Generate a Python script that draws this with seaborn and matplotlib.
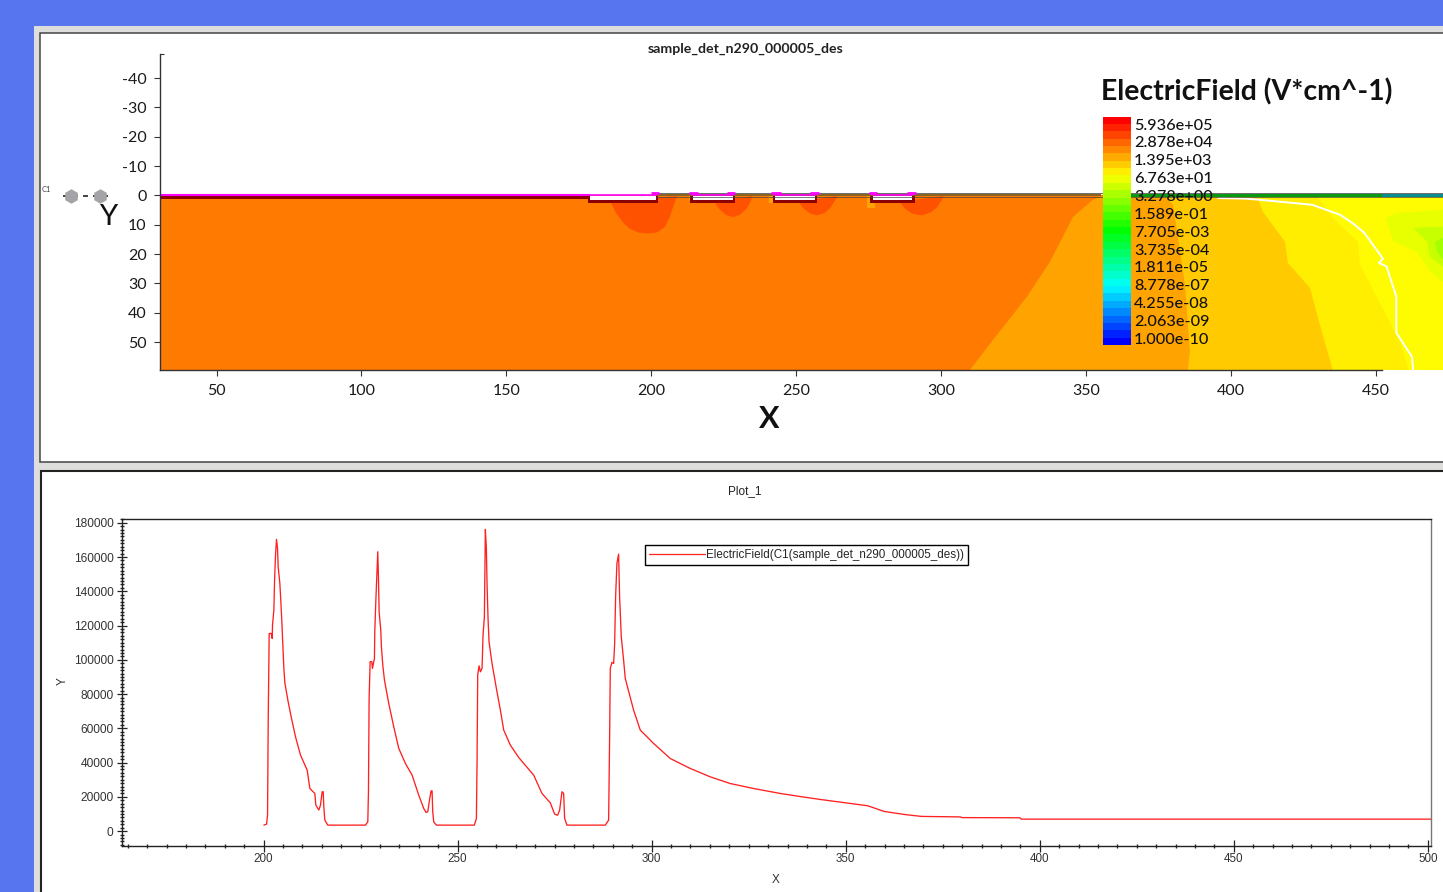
import numpy as np
import pandas as pd
import matplotlib
matplotlib.use("Agg")
import matplotlib.pyplot as plt
from matplotlib.colors import LinearSegmentedColormap
from matplotlib.patches import Rectangle
from matplotlib.ticker import MultipleLocator
import seaborn as sns

# ---------- data: line profile ----------
curve_x = [200.08,200.77,201.03,201.2,201.45,201.97,202.23,202.31,202.66,202.83,203.08,203.34,203.6,203.77,204.2,204.46,204.71,204.97,205.23,205.49,206.26,207.12,208.23,209.52,211.24,211.93,213.21,213.47,214.24,214.67,215.1,215.36,215.53,215.79,216.56,
           226.26,226.86,227.03,227.2,227.46,227.89,228.06,228.57,228.66,228.92,229.26,229.43,229.6,229.78,230.2,230.37,230.72,231.15,232.26,233.55,234.84,236.55,238.27,239.99,241.28,241.88,242.31,242.82,243.17,243.42,243.59,243.85,244.54,
           254.32,254.84,255.01,255.18,255.52,255.87,256.3,256.55,256.9,257.15,257.41,257.58,257.84,258.1,258.87,259.99,261.02,261.88,263.59,265.74,269.6,271.74,273.89,275.0,275.78,276.29,276.89,277.32,277.58,278.18,
           288.05,288.91,289.17,289.34,289.77,290.2,290.45,290.71,291.05,291.48,291.74,292.17,292.77,293.2,295.35,297.06,300.49,304.79,309.93,315.09,320.23,326.24,333.11,338.0,343.41,350.0,355.7,359.9,365.2,369.5,379.5,380.0,394.9,395.2,500.8]
curve_y = [3500,4090,9340,63800,115400,115400,112500,120300,129000,145600,161100,170300,165000,154300,144600,133900,122200,108600,95000,86600,76500,66700,55100,44400,35600,24900,22000,15200,12300,15200,23000,23000,14200,6400,3500,
           3500,5400,23000,77500,98900,98900,95000,100800,116400,133900,153300,163100,148500,128000,117300,107600,96900,88200,74500,60900,48300,39500,32700,21000,13200,10900,11300,19100,23500,23500,11300,5400,3500,
           3500,7400,40500,91100,96500,93000,95000,114400,125100,176100,165000,144600,124200,110500,97900,83300,70600,59000,50200,43000,32700,22000,16500,9900,9300,12300,23000,22000,7400,3500,
           3500,6400,55100,95000,98500,97900,108600,136800,156300,161700,136800,113500,99800,89100,70600,59000,51200,42400,36600,31700,27800,24900,22000,20300,18500,16500,14800,11500,9700,8600,8300,7900,7800,7000,7000]
legend_label = "ElectricField(C1(sample_det_n290_000005_des))"

# ---------- data: 2D field contours ----------
bnd_a_x = [309.9,317.9,329.6,337.5,345.5,352.3,355.8]; bnd_a_y = [59.5,49.2,34.5,22.6,7.3,1.5,0.2]
bnd_b_x = [385.1,385.8,384.1,382.4,380.0,377.2];       bnd_b_y = [59.5,53.2,30.4,19.2,3.2,0.2]
bnd_c_x = [435.1,430.6,427.2,419.6,418.6,411.0,408.9]; bnd_c_y = [59.5,44.0,31.5,23.0,15.8,5.6,0.2]
bnd_d_x = [461.3,458.2,444.4,443.7,435.1,429.6];       bnd_d_y = [59.5,49.8,23.6,15.8,7.7,0.2]
blob1_x = [473.1,457.2,453.2,456.0,464.1,468.6,473.1]; blob1_y = [4.9,6.0,7.7,15.8,19.2,26.0,29.4]
blob2_x = [473.1,462.8,467.6,468.6,473.1];             blob2_y = [10.7,11.0,15.8,20.9,24.3]
blob3_x = [473.1,470.3,471.0,473.1];                   blob3_y = [14.5,15.8,19.2,21.9]
dome1_x = [185.8,187.6,190.0,192.6,195.6,198.9,202.0,204.6,206.4,207.5,208.9]; dome1_y = [2.0,5.6,9.0,11.4,12.7,13.0,12.6,10.8,7.3,3.9,0.2]
dome2_x = [221.6,223.4,225.6,228.2,230.6,232.8,234.2,234.9]; dome2_y = [2.0,4.6,6.6,7.4,6.6,4.6,2.2,0.2]
dome3_x = [250.8,252.6,254.8,257.1,259.8,261.8,263.2,264.2]; dome3_y = [2.2,4.6,6.2,6.8,6.0,4.2,2.0,0.2]
dome4_x = [285.6,287.6,290.0,293.4,296.4,298.4,300.0,300.8]; dome4_y = [2.2,4.6,6.2,6.8,5.8,4.2,2.0,0.2]
spot_x = [(213.0,214.5,1.6),(240.6,242.7,2.6),(274.4,277.0,4.2)]
white_x = [395.6,405.0,410.0,428.0,437.6,442.0,446.0,452.4,451.0,453.6,457.0,457.0,462.4,462.8]
white_y = [0.9,1.1,1.5,3.2,6.6,9.5,12.8,21.6,23.0,24.2,34.5,46.8,55.0,59.5]
trench_left = [178.8,214.3,242.6,276.4]
trench_right = [201.5,228.0,256.4,290.0]
bump_left = [199.8,213.0,241.3,275.0]
bump_right = [202.6,216.0,244.6,278.0]
bump2_left = [None,226.0,254.6,288.2]
bump2_right = [None,229.0,258.0,291.2]

# ---------- data: colorbar ----------
cbar_labels = ["5.936e+05","2.878e+04","1.395e+03","6.763e+01","3.278e+00","1.589e-01","7.705e-03",
               "3.735e-04","1.811e-05","8.778e-07","4.255e-08","2.063e-09","1.000e-10"]
n_levels = 31
cbar_levels = np.arange(n_levels)[::-1]

W, H = 1443, 892
sns.set_theme(style="white")
plt.rcParams["font.family"] = ["Lato", "DejaVu Sans"]
plt.rcParams["axes.unicode_minus"] = False
fig = plt.figure(figsize=(W/100, H/100), dpi=100, facecolor="#5775EE")

def box(x0, y0, x1, y1, **kw):
    return fig.add_axes([x0/W, 1-y1/H, (x1-x0)/W, (y1-y0)/H], **kw)

# ---------- panels ----------
bg = box(0, 0, W, H); bg.set_xlim(0, W); bg.set_ylim(H, 0); bg.axis("off"); bg.set_zorder(-5)
bg.add_patch(Rectangle((34, 26), W, H, fc="#DDDDDB", ec="none"))
bg.add_patch(Rectangle((40, 33), W, 429, fc="white", ec="#444444", lw=1.1))
bg.add_patch(Rectangle((40.5, 471), W, 430, fc="white", ec="#222222", lw=1.5))

# ---------- top field plot ----------
ax = box(160, 54, 1443, 370); ax.set_zorder(1)
x0, x1, ytop, ybot = 30.5, 473.1, -48.2, 59.5
ax.set_xlim(x0, x1); ax.set_ylim(ybot, ytop)
ax.patch.set_alpha(0)
C_BASE, C_A, C_B, C_C, C_D, C_DOME = "#FF7A00", "#FFA300", "#FFCB00", "#FFEE00", "#FFFB00", "#FF5200"
ax.fill_between([x0, x1], 0, ybot, color=C_BASE, lw=0)
for bx, by, c in [(bnd_a_x, bnd_a_y, C_A), (bnd_b_x, bnd_b_y, C_B), (bnd_c_x, bnd_c_y, C_C), (bnd_d_x, bnd_d_y, C_D)]:
    ax.fill(list(bx)+[x1, x1], list(by)+[0, ybot], color=c, lw=0)
for bx, by, c in [(blob1_x, blob1_y, "#E8FF00"), (blob2_x, blob2_y, "#C8FF00"), (blob3_x, blob3_y, "#A4FF00")]:
    ax.fill(bx, by, color=c, lw=0)
for bx, by in [(dome1_x, dome1_y), (dome2_x, dome2_y), (dome3_x, dome3_y), (dome4_x, dome4_y)]:
    ax.fill(bx, by, color=C_DOME, lw=0)
for a, b, d in spot_x:
    ax.fill_between([a, b], 0, d, color=C_A, lw=0)
ax.plot(white_x, white_y, color="white", lw=1.4)

# surface layers
ax.fill_between([x0, trench_left[0]], 0.2, 1.1, color="#8B0000", lw=0)
ax.fill_between([201.5, 355], -0.6, 0.3, color="#8A6420", lw=0)
ax.fill_between([365, 452], -0.6, 0.4, color="#0A9A12", lw=0)
ax.fill_between([452, x1], -0.6, 0.4, color="#088C8C", lw=0)
ax.plot([201.5, x1], [-0.7, -0.7], color="#555555", lw=0.6)
ax.plot([201.5, x1], [0.4, 0.4], color="#444444", lw=0.5)
for a, b in zip(trench_left, trench_right):
    ax.fill_between([a-0.8, b+0.8], 0.2, 2.6, color="#8B0000", lw=0)
    ax.fill_between([a, b], 0.2, 1.7, color="white", lw=0)
ax.plot([x0, trench_left[0]], [-0.2, -0.2], color="#FF00FF", lw=1.5, solid_capstyle="butt")
for a, b in zip(trench_left, trench_right):
    ax.plot([a, b], [0.0, 0.0], color="#FF00FF", lw=1.2, solid_capstyle="butt")
for a, b in list(zip(bump_left, bump_right)) + [(p, q) for p, q in zip(bump2_left, bump2_right) if p]:
    ax.plot([a, b], [-0.7, -0.7], color="#FF00FF", lw=2.0, solid_capstyle="butt", zorder=4)

sns.despine(ax=ax, top=True, right=True)
for s in ("left", "bottom"):
    ax.spines[s].set_color("#333333"); ax.spines[s].set_linewidth(1.0)
ax.spines["bottom"].set_bounds(x0, 452)
ax.set_xticks([50, 100, 150, 200, 250, 300, 350, 400, 450])
ax.set_yticks([-40, -30, -20, -10, 0, 10, 20, 30, 40, 50])
ax.set_xticks([452], minor=True); ax.set_yticks([ytop], minor=True)
ax.tick_params(axis="x", which="major", direction="out", length=4.5, width=0.8, color="#333333",
               labelsize=11.5, labelcolor="#1a1a1a", pad=5.7, bottom=True)
ax.tick_params(axis="y", which="major", direction="out", length=4.5, width=0.8, color="#333333",
               labelsize=11.5, labelcolor="#1a1a1a", pad=5, left=True)
ax.tick_params(axis="both", which="minor", direction="in", length=3, width=0.8, color="#333333", bottom=True, left=True)
ax.set_xlabel(""); ax.set_ylabel("")

# colorbar through a heatmap
cb = box(1103, 116.5, 1131, 345); cb.set_zorder(3)
cmap = LinearSegmentedColormap.from_list("rb", ["#0000FF", "#00FFFF", "#00FF00", "#FFFF00", "#FF0000"], N=n_levels)
sns.heatmap(cbar_levels.reshape(-1, 1), ax=cb, cmap=cmap, cbar=False, xticklabels=False, yticklabels=False, linewidths=0)

# ---------- bottom line plot ----------
ax2 = box(121.5, 519, 1431, 845.7); ax2.set_zorder(2)
df = pd.DataFrame({"X": curve_x, "Y": curve_y})
sns.lineplot(data=df, x="X", y="Y", ax=ax2, estimator=None, sort=False, color="#FF2020", lw=0.95,
             label=legend_label, errorbar=None)
ax2.set_xlim(163.4, 500.8); ax2.set_ylim(-8500, 182200)
for s in ax2.spines.values():
    s.set_visible(True); s.set_color("#222222"); s.set_linewidth(1.0)
ax2.spines["right"].set_color("#777777")
ax2.xaxis.set_major_locator(MultipleLocator(50)); ax2.xaxis.set_minor_locator(MultipleLocator(5))
ax2.yaxis.set_major_locator(MultipleLocator(20000)); ax2.yaxis.set_minor_locator(MultipleLocator(2000))
ax2.tick_params(axis="x", which="major", direction="inout", length=8.5, width=0.9, color="#222222", bottom=True,
                labelsize=8.4, labelcolor="#333333", pad=1, labelfontfamily="Liberation Sans")
ax2.tick_params(axis="y", which="major", direction="inout", length=7.5, width=0.9, color="#222222", left=True,
                labelsize=8.6, labelcolor="#333333", pad=2, labelfontfamily="Liberation Sans")
ax2.tick_params(axis="both", which="minor", direction="inout", length=3.5, width=1.0, color="#222222", bottom=True, left=True)
ax2.set_xlabel(""); ax2.set_ylabel("")
leg = ax2.legend(loc="center", bbox_to_anchor=(806.5/W, 1-555/H), bbox_transform=fig.transFigure,
                 fancybox=False, framealpha=1, edgecolor="black", borderpad=0.35, handlelength=4.8, handletextpad=0.15,
                 handleheight=1.1, prop={"family": "Liberation Sans", "size": 8.4})
leg.get_frame().set_linewidth(1.0)
leg.get_lines()[0].set_linewidth(0.9)

# ---------- overlay texts ----------
ov = box(0, 0, W, H); ov.set_xlim(0, W); ov.set_ylim(H, 0); ov.axis("off"); ov.set_zorder(5); ov.patch.set_alpha(0)
ov.text(745.5, 48.5, "sample_det_n290_000005_des", ha="center", va="center", fontsize=10.2, fontweight="bold", color="#222222")
ov.text(1247, 91.5, "ElectricField (V*cm^-1)", ha="center", va="center", fontsize=20.4, fontweight="bold", color="#111111")
for i, t in enumerate(cbar_labels):
    ov.text(1134, 125.5+i*17.87, t, ha="left", va="center", fontsize=11.7, fontweight="medium", color="#111111")
ov.text(769, 419, "X", ha="center", va="center", fontsize=22, fontweight="bold", color="#111111")
ov.text(108.5, 217, "Y", ha="center", va="center", fontsize=21, color="#111111")
ov.text(41.5, 189, "C1", ha="left", va="center", fontsize=5.5, color="#444444")
ov.plot([63, 108], [196, 196], color="#222222", lw=1.2, ls=(0, (3, 3)))
ov.scatter([71, 100], [196, 196], s=110, color="#A4A4A8", marker="h", zorder=3, linewidths=0)
ov.text(745, 491, "Plot_1", ha="center", va="center", fontsize=8.5, family="Liberation Sans", color="#222222")
ov.text(63, 681, "Y", ha="center", va="center", rotation=90, fontsize=8.5, family="Liberation Sans", color="#333333")
ov.text(775.5, 880, "X", ha="center", va="center", fontsize=8.5, family="Liberation Sans", color="#333333")

fig.savefig("out.png", dpi=100, facecolor=fig.get_facecolor())
